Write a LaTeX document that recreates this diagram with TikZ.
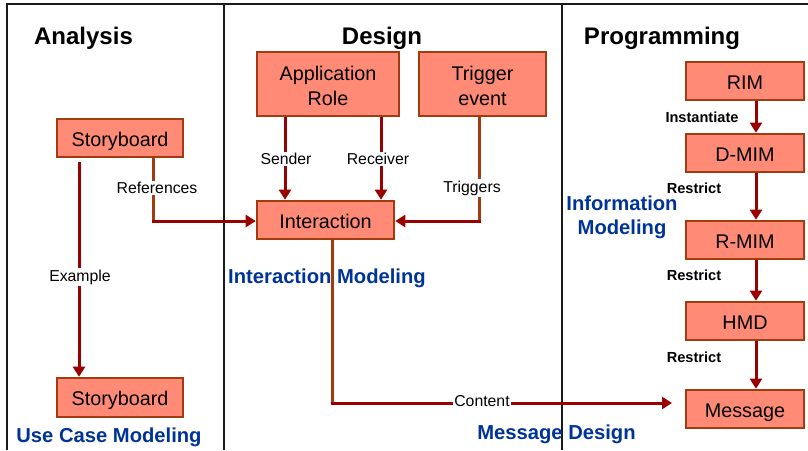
\documentclass[tikz,border=0pt]{standalone}
\usepackage{fontspec}
\setmainfont{Liberation Sans}
\usetikzlibrary{arrows.meta}
\definecolor{boxfill}{HTML}{FF8B76}
\definecolor{boxline}{HTML}{A33B10}
\definecolor{arrowred}{HTML}{990000}
\definecolor{linkbrown}{HTML}{A33B10}
\definecolor{areablue}{HTML}{003399}
\definecolor{frame}{HTML}{1A1A1A}
\tikzset{
  stepbox/.style={draw=boxline, fill=boxfill, line width=2.6pt, inner sep=0pt,
    align=center, font=\fontsize{19.8}{25}\selectfont},
  onebox/.style={stepbox, text height=16pt, text depth=0pt},
  heading/.style={font=\fontsize{24}{26}\selectfont\bfseries},
  area/.style={text=areablue, font=\fontsize{20.2}{24}\selectfont\bfseries, align=center, inner sep=0pt},
  linklabel/.style={fill=white, inner sep=1.5pt, font=\fontsize{15.8}{18}\selectfont},
  steplabel/.style={inner sep=0pt, font=\fontsize{14.6}{17}\selectfont\bfseries},
  flow/.style={draw=arrowred, line width=3pt, -{Triangle[width=12pt,length=10pt]}},
  stem/.style={draw=linkbrown, line width=3pt},
  divider/.style={draw=frame, line width=2pt},
}
% a strut that lowers two-line box texts a little
\newcommand\toplift{\rule{0pt}{18.5pt}}
\begin{document}
\begin{tikzpicture}[x=1pt, y=-1pt]
\useasboundingbox (0,0) rectangle (808,450);

% column frame
\draw[divider] (7,450) -- (7,4) -- (808,4);
\draw[divider] (224,4) -- (224,450);
\draw[divider] (562,4) -- (562,450);

% headings
\node[heading] (hAnalysis) at (83.5,38.5) {Analysis};
\node[heading] (hDesign) at (382,38.5) {Design};
\node[heading] (hProg) at (662,38.5) {Programming};

% analysis column
\node[onebox, minimum width=126pt, minimum height=38pt] (story1) at (120,138) {Storyboard};
\node[onebox, minimum width=126pt, minimum height=39pt] (story2) at (120,397.5) {Storyboard};
\node[area] (ucm) at (109,437) {Use Case Modeling};

% design column
\node[stepbox, minimum width=142pt, minimum height=64pt] (approle) at (328,84) {\toplift Application\\Role};
\node[stepbox, minimum width=127pt, minimum height=64pt] (trigger) at (482.5,84) {\toplift Trigger\\event};
\node[onebox, minimum width=137pt, minimum height=38pt] (interact) at (325.5,220) {Interaction};

% programming column
\node[onebox, minimum width=118pt, minimum height=38pt] (rim) at (745,81) {RIM};
\node[onebox, minimum width=118pt, minimum height=38pt] (dmim) at (745,153) {D-MIM};
\node[onebox, minimum width=118pt, minimum height=38pt] (rmim) at (745,240) {R-MIM};
\node[onebox, minimum width=118pt, minimum height=38pt] (hmd) at (745,321) {HMD};
\node[onebox, minimum width=118pt, minimum height=38pt] (message) at (745,409) {Message};

% connector corners and ends
\coordinate (refTop) at (153,158);
\coordinate (refCorner) at (153,221);
\coordinate (trigTop) at (479,117);
\coordinate (trigCorner) at (479,221);
\coordinate (contTop) at (332,240);
\coordinate (contCorner) at (332,403);
\coordinate (contEnd) at (672,403);

% analysis links
\draw[flow] (79,162) -- (story2.north -| 79,0);
\node[linklabel] (lExample) at (80,277) {Example};

\draw[stem] (refTop) -- (refCorner);
\draw[flow] ([xshift=-1.5pt]refCorner) -- (interact.west |- refCorner);
\node[linklabel] (lRef) at (157,188) {References};

% design links
\draw[flow] (approle.south -| 285,0) -- (interact.north -| 285,0);
\node[linklabel] (lSender) at (286,159) {Sender};
\draw[flow] (approle.south -| 381,0) -- (interact.north -| 381,0);
\node[linklabel] (lReceiver) at (378,159) {Receiver};

\draw[stem] (trigTop) -- (trigCorner);
\draw[flow] ([xshift=1.5pt]trigCorner) -- (interact.east |- trigCorner);
\node[linklabel] (lTrig) at (472,188) {Triggers};

\draw[stem] (contTop) -- (contCorner);
\draw[flow] ([xshift=-1.5pt]contCorner) -- (contEnd);
\node[linklabel] (lContent) at (482,401) {Content};

\node[area] (im) at (327,278) {Interaction Modeling};
\node[area] (md) at (556.5,434) {Message Design};

% programming links
\draw[flow] (rim.south -| 756,0) -- (dmim.north -| 756,0);
\draw[flow] (dmim.south -| 756,0) -- (rmim.north -| 756,0);
\draw[flow] (rmim.south -| 756,0) -- (hmd.north -| 756,0);
\draw[flow] (hmd.south -| 756,0) -- (message.north -| 756,0);
\node[steplabel] (lInst) at (702,117) {Instantiate};
\node[steplabel] (lR1) at (694,188) {Restrict};
\node[steplabel] (lR2) at (694,275) {Restrict};
\node[steplabel] (lR3) at (694,357) {Restrict};
\node[area] (infm) at (622,217) {Information\\Modeling};

\end{tikzpicture}
\end{document}
